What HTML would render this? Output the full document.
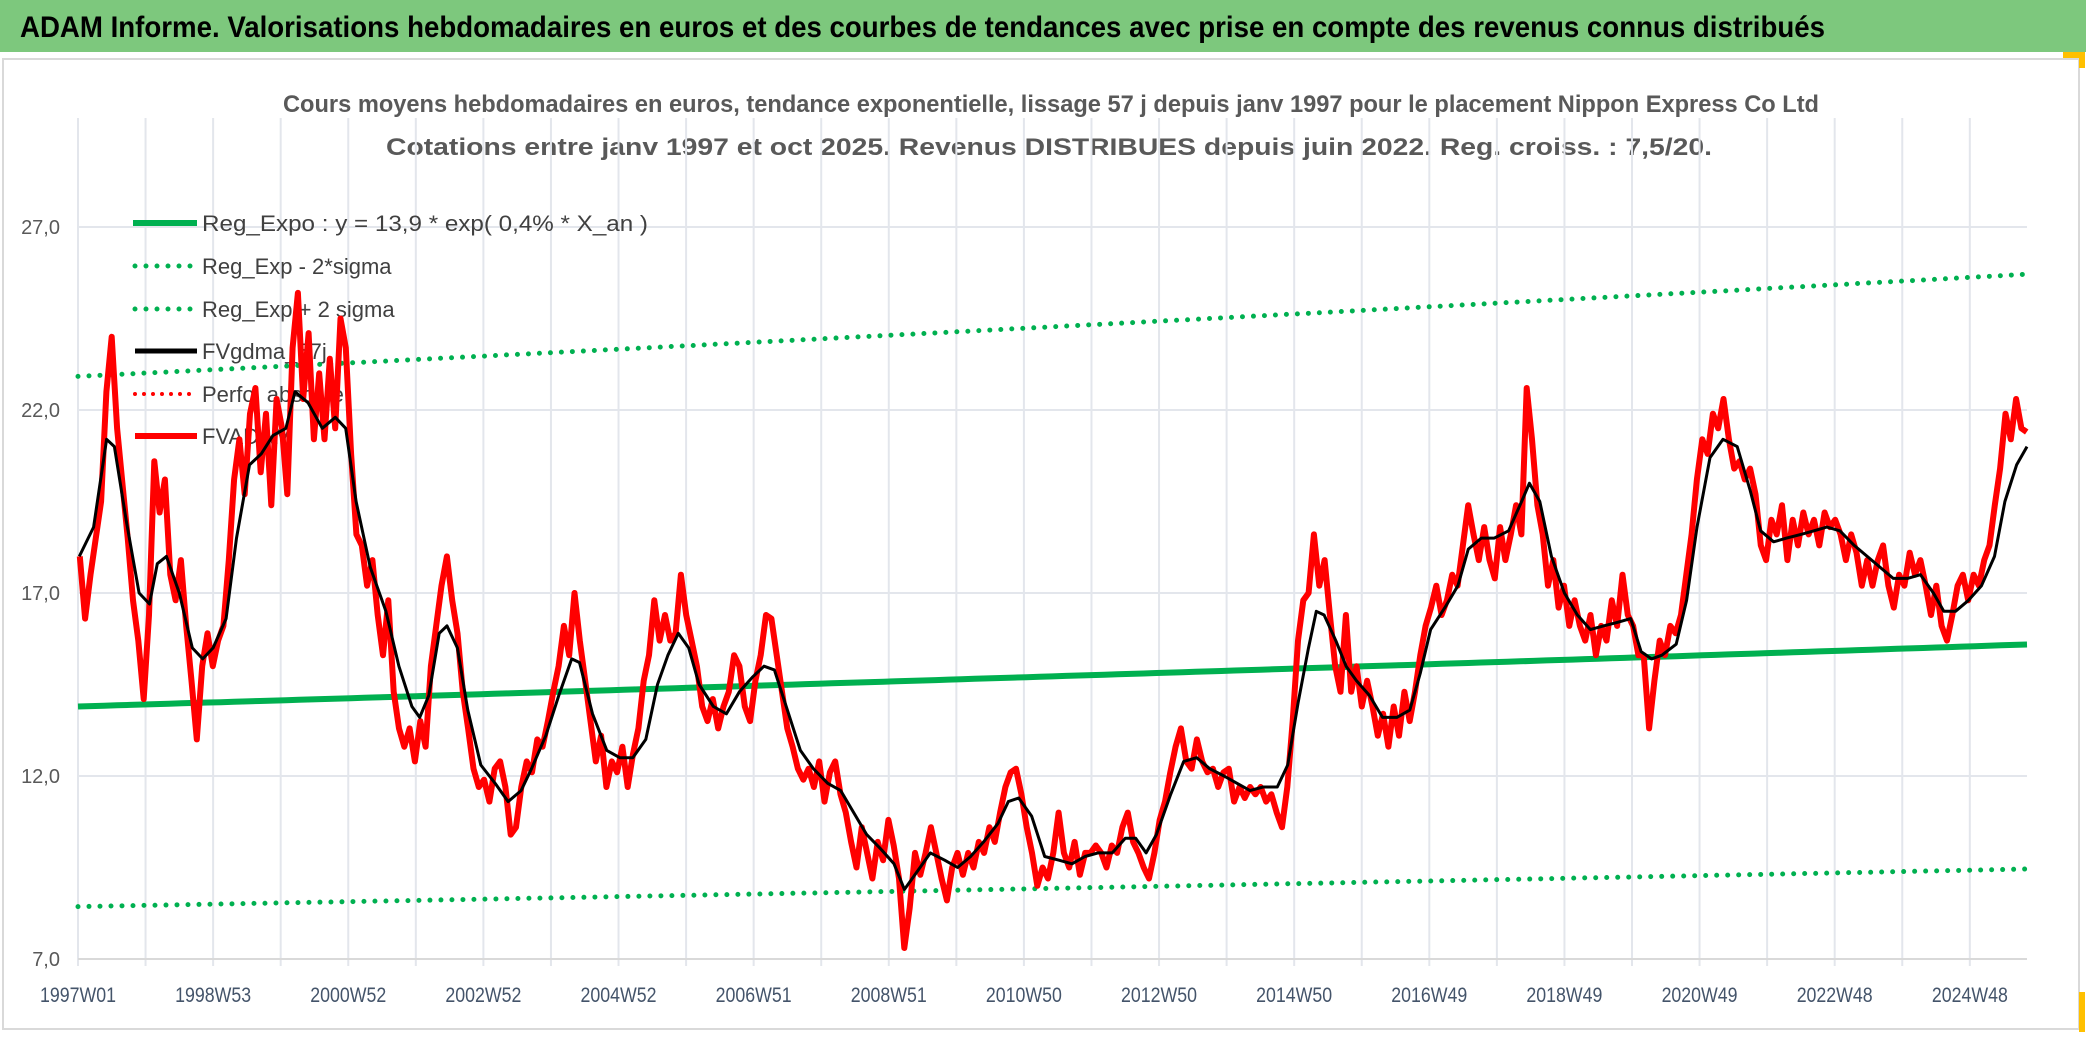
<!DOCTYPE html>
<html><head><meta charset="utf-8">
<style>
html,body{margin:0;padding:0;background:#fff;}
body{width:2086px;height:1037px;overflow:hidden;font-family:"Liberation Sans",sans-serif;}
svg{display:block;}
</style></head>
<body>
<svg id="chart" width="2086" height="1037" viewBox="0 0 2086 1037" xmlns="http://www.w3.org/2000/svg">
  <rect x="0" y="0" width="2086" height="1037" fill="#ffffff"/>
  <rect x="0" y="0" width="2086" height="52" fill="#7dc87d"/>
  <text x="20" y="37" font-size="30" font-weight="bold" fill="#000" textLength="1805" lengthAdjust="spacingAndGlyphs">ADAM Informe. Valorisations hebdomadaires en euros et des courbes de tendances avec prise en compte des revenus connus distribués</text>
  <rect x="3" y="59" width="2076" height="970" fill="none" stroke="#d9d9d9" stroke-width="2"/>
  <rect x="2063" y="52" width="22" height="6" fill="#ffc000"/>
  <rect x="2079" y="52" width="6" height="16" fill="#ffc000"/>
  <rect x="2079" y="992" width="6" height="40" fill="#ffc000"/>
  <text x="1051" y="112" font-size="24" font-weight="bold" fill="#595959" text-anchor="middle" textLength="1536" lengthAdjust="spacingAndGlyphs">Cours moyens hebdomadaires en euros, tendance exponentielle, lissage 57 j depuis janv 1997 pour le placement Nippon Express Co Ltd</text>
  <text x="1049" y="155" font-size="24" font-weight="bold" fill="#595959" text-anchor="middle" textLength="1326" lengthAdjust="spacingAndGlyphs">Cotations entre janv 1997 et oct 2025. Revenus DISTRIBUES depuis juin 2022. Reg. croiss. : 7,5/20.</text>
  <g id="grid"></g>
  <g id="yaxis"></g>
  <g id="xaxis"></g>
  <g id="legend">
    <line x1="133" y1="223" x2="197" y2="223" stroke="#00b050" stroke-width="6"/>
    <text x="202" y="231" font-size="22" fill="#404040" textLength="446" lengthAdjust="spacingAndGlyphs">Reg_Expo : y = 13,9 * exp( 0,4% *  X_an )</text>
    <line x1="135" y1="266" x2="197" y2="266" stroke="#00b050" stroke-width="5" stroke-linecap="round" stroke-dasharray="0 11"/>
    <text x="202" y="274" font-size="22" fill="#404040">Reg_Exp - 2*sigma</text>
    <line x1="135" y1="309" x2="197" y2="309" stroke="#00b050" stroke-width="5" stroke-linecap="round" stroke-dasharray="0 11"/>
    <text x="202" y="317" font-size="22" fill="#404040">Reg_Exp + 2 sigma</text>
    <line x1="135" y1="351" x2="197" y2="351" stroke="#000" stroke-width="5"/>
    <text x="202" y="359" font-size="22" fill="#404040">FVgdma_57j</text>
    <line x1="135" y1="394" x2="197" y2="394" stroke="#ff0000" stroke-width="4" stroke-linecap="round" stroke-dasharray="0 9"/>
    <text x="202" y="402" font-size="22" fill="#404040">Perfo. absolue</text>
    <line x1="135" y1="436" x2="197" y2="436" stroke="#ff0000" stroke-width="6"/>
    <text x="202" y="444" font-size="22" fill="#404040">FVADAM</text>
  </g>
  <g id="series"></g>
</svg>
<script>
// ---- data ----
const yTicks = [7, 12, 17, 22, 27];
const yTickLabels = ["7,0", "12,0", "17,0", "22,0", "27,0"];
const xTickWeeks = [0, 104, 208, 312, 416, 520, 624, 728, 832, 936, 1040, 1144, 1248, 1352, 1456];
const xTickLabels = ["1997W01","1998W53","2000W52","2002W52","2004W52","2006W51","2008W51","2010W50","2012W50","2014W50","2016W49","2018W49","2020W49","2022W48","2024W48"];
const regCoef = 13.9;      // y = 13,9 * exp(0,4% * X_an)
const regRate = 0.004;
const regSigma = 0.25;
const totalWeeks = 1500;
const redStartWeek = 1.4;
const redStepWeeks = 4.094;
const redValues = [18.0,16.3,17.5,18.5,19.5,22.5,24.0,21.5,20.0,18.5,16.8,15.7,14.1,16.4,20.6,19.2,20.1,17.5,16.8,17.9,16.1,14.6,13.0,15.0,15.9,15.0,15.7,16.1,17.9,20.1,21.2,19.7,21.9,22.6,20.3,21.9,19.4,22.3,21.5,19.7,23.7,25.2,22.3,24.1,21.2,23.0,21.2,23.4,21.5,24.5,23.7,20.8,18.6,18.3,17.2,17.9,16.4,15.3,16.8,14.3,13.3,12.8,13.3,12.4,13.5,12.8,15.0,16.1,17.2,18.0,16.8,15.9,14.3,13.3,12.2,11.7,11.9,11.3,12.2,12.4,11.7,10.4,10.6,11.7,12.4,12.1,13.0,12.8,13.5,14.3,15.0,16.1,15.3,17.0,15.7,14.6,13.5,12.4,13.1,11.7,12.4,12.1,12.8,11.7,12.6,13.3,14.6,15.3,16.8,15.7,16.4,15.7,15.9,17.5,16.4,15.7,15.0,13.9,13.5,14.1,13.3,13.9,14.3,15.3,15.0,13.9,13.5,14.6,15.3,16.4,16.3,15.3,14.3,13.3,12.8,12.2,11.9,12.2,11.7,12.4,11.3,12.1,12.4,11.5,11.0,10.2,9.5,10.6,9.9,9.2,10.2,9.7,10.8,10.1,9.2,7.3,8.4,9.9,9.3,9.9,10.6,9.9,9.2,8.6,9.5,9.9,9.3,9.9,9.5,10.2,9.9,10.6,10.2,11.0,11.7,12.1,12.2,11.5,10.6,9.9,9.0,9.5,9.2,9.9,11.0,9.9,9.5,10.2,9.3,9.9,9.9,10.1,9.9,9.5,10.1,9.9,10.6,11.0,10.2,9.9,9.5,9.2,9.9,10.8,11.3,12.1,12.8,13.3,12.4,12.2,13.0,12.4,12.1,12.2,11.7,12.1,12.2,11.3,11.7,11.4,11.7,11.5,11.7,11.3,11.5,11.0,10.6,11.7,13.5,15.7,16.8,17.0,18.6,17.2,17.9,16.4,15.0,14.3,16.4,14.3,15.0,13.9,14.6,13.9,13.1,13.7,12.8,13.9,13.1,14.3,13.5,14.3,15.3,16.1,16.6,17.2,16.4,16.8,17.5,17.2,18.3,19.4,18.6,17.9,18.8,17.9,17.4,18.8,17.9,18.6,19.4,18.6,22.6,21.2,19.4,18.6,17.2,17.9,16.6,17.2,16.1,16.8,16.1,15.7,16.4,15.3,16.1,15.7,16.8,16.1,17.5,16.4,16.1,15.3,15.3,13.3,14.6,15.7,15.3,16.1,15.9,16.4,17.5,18.6,20.1,21.2,20.8,21.9,21.5,22.3,21.2,20.4,20.6,20.1,20.4,19.7,18.3,17.9,19.0,18.6,19.4,17.9,19.0,18.3,19.2,18.6,19.0,18.3,19.2,18.8,19.0,18.6,17.9,18.6,18.1,17.2,17.9,17.2,17.9,18.3,17.2,16.6,17.5,17.2,18.1,17.5,17.9,17.2,16.4,17.2,16.1,15.7,16.4,17.2,17.5,16.8,17.5,17.2,17.9,18.3,19.4,20.4,21.9,21.2,22.3,21.5,21.4];
const blackWeeks = [1,12,22,28,37,47,55,61,68,78,88,96,104,114,122,132,141,150,160,167,177,188,198,206,214,225,237,247,257,263,270,278,284,292,300,310,321,331,341,349,360,370,380,386,396,407,417,427,437,446,454,462,470,478,489,499,509,519,528,536,546,556,566,577,587,597,607,618,628,636,646,656,667,677,687,697,708,716,724,734,744,755,765,775,785,796,806,814,822,830,841,851,861,871,882,892,902,912,923,931,939,947,953,959,968,976,984,994,1004,1015,1025,1033,1041,1052,1062,1070,1080,1090,1101,1111,1117,1125,1134,1144,1154,1164,1174,1185,1195,1203,1211,1219,1230,1238,1246,1256,1266,1277,1287,1295,1305,1315,1326,1336,1346,1356,1367,1377,1387,1397,1408,1418,1428,1436,1445,1455,1465,1475,1483,1492,1500];
const blackValues = [18.0,18.8,21.2,21.0,19.0,17.0,16.7,17.8,18.0,17.0,15.5,15.2,15.5,16.3,18.5,20.5,20.8,21.3,21.5,22.5,22.2,21.5,21.8,21.5,19.5,17.7,16.5,15.0,13.9,13.6,14.2,15.9,16.1,15.5,13.8,12.3,11.8,11.3,11.6,12.2,13.1,14.2,15.2,15.1,13.7,12.7,12.5,12.5,13.0,14.5,15.3,15.9,15.5,14.5,13.9,13.7,14.3,14.7,15.0,14.9,13.8,12.7,12.2,11.8,11.6,11.0,10.4,10.0,9.6,8.9,9.4,9.9,9.7,9.5,9.8,10.2,10.7,11.3,11.4,10.9,9.8,9.7,9.6,9.8,9.9,9.9,10.3,10.3,9.9,10.4,11.5,12.4,12.5,12.2,12.0,11.8,11.6,11.7,11.7,12.3,14.0,15.5,16.5,16.4,15.7,15.0,14.6,14.2,13.6,13.6,13.8,14.8,16.0,16.6,17.2,18.2,18.5,18.5,18.7,19.5,20.0,19.5,18.0,17.0,16.4,16.0,16.1,16.2,16.3,15.4,15.2,15.3,15.6,16.8,18.8,20.7,21.2,21.0,19.8,18.7,18.4,18.5,18.6,18.7,18.8,18.7,18.3,18.0,17.7,17.4,17.4,17.5,17.0,16.5,16.5,16.8,17.2,18.0,19.5,20.5,21.0];

// ---- scales ----
const X0 = 78, X1 = 2027, YT = 227, YB = 959;
function xScale(w){ return X0 + (w / totalWeeks) * (X1 - X0); }
function yScale(v){ return YB - (v - 7) / 20 * (YB - YT); }
const NS = "http://www.w3.org/2000/svg";
function mk(tag, attrs, parent){
  const e = document.createElementNS(NS, tag);
  for (const k in attrs) e.setAttribute(k, attrs[k]);
  parent.appendChild(e);
  return e;
}
const grid = document.getElementById('grid');
const yaxis = document.getElementById('yaxis');
const xaxis = document.getElementById('xaxis');
const series = document.getElementById('series');

yTicks.forEach((v, i) => {
  const y = yScale(v);
  if (i > 0) {
    const g = mk('line', {x1: X0, x2: X1, y1: y, y2: y, stroke: '#e3e6ec', 'stroke-width': 2}, grid);
    
    
  }
  const t = mk('text', {x: 60, y: y + 7, 'font-size': 20, fill: '#595959', 'text-anchor': 'end'}, yaxis);
  t.textContent = yTickLabels[i];
  
  
});
for (let w = 0; w <= totalWeeks; w += 52) {
  const x = xScale(w);
  const g = mk('line', {x1: x, x2: x, y1: 118, y2: YB + 7, stroke: '#e3e6ec', 'stroke-width': 2}, grid);
  
  
}
const ax = mk('line', {x1: X0, x2: X1, y1: YB, y2: YB, stroke: '#d9d9d9', 'stroke-width': 2}, xaxis);


xTickWeeks.forEach((w, i) => {
  const t = mk('text', {x: xScale(w), y: 1002, 'font-size': 21, fill: '#44546a', 'text-anchor': 'middle', textLength: 76, lengthAdjust: 'spacingAndGlyphs'}, xaxis);
  t.textContent = xTickLabels[i];
  
  
});

function trendPath(mult){
  let d = '';
  for (let w = 0; w <= totalWeeks; w += 10) {
    const yr = w / 52.18;
    const v = regCoef * Math.exp(regRate * yr) * mult;
    d += (w === 0 ? 'M' : 'L') + xScale(w).toFixed(1) + ',' + yScale(v).toFixed(1);
  }
  return d;
}
const lower = mk('path', {d: trendPath(Math.exp(-2 * regSigma)), fill: 'none', stroke: '#00b050', 'stroke-width': 5, 'stroke-linecap': 'round', 'stroke-dasharray': '0 11'}, series);


const upper = mk('path', {d: trendPath(Math.exp(2 * regSigma)), fill: 'none', stroke: '#00b050', 'stroke-width': 5, 'stroke-linecap': 'round', 'stroke-dasharray': '0 11'}, series);


const reg = mk('path', {d: trendPath(1), fill: 'none', stroke: '#00b050', 'stroke-width': 6}, series);



let dr = '';
redValues.forEach((v, i) => {
  const w = redStartWeek + i * redStepWeeks;
  dr += (i === 0 ? 'M' : 'L') + xScale(w).toFixed(1) + ',' + yScale(v).toFixed(1);
});
const red = mk('path', {d: dr, fill: 'none', stroke: '#ff0000', 'stroke-width': 6, 'stroke-linejoin': 'round'}, series);



let db = '';
blackValues.forEach((v, i) => {
  db += (i === 0 ? 'M' : 'L') + xScale(blackWeeks[i]).toFixed(1) + ',' + yScale(v).toFixed(1);
});
const blk = mk('path', {d: db, fill: 'none', stroke: '#000', 'stroke-width': 3, 'stroke-linejoin': 'round'}, series);


</script>
</body></html>
